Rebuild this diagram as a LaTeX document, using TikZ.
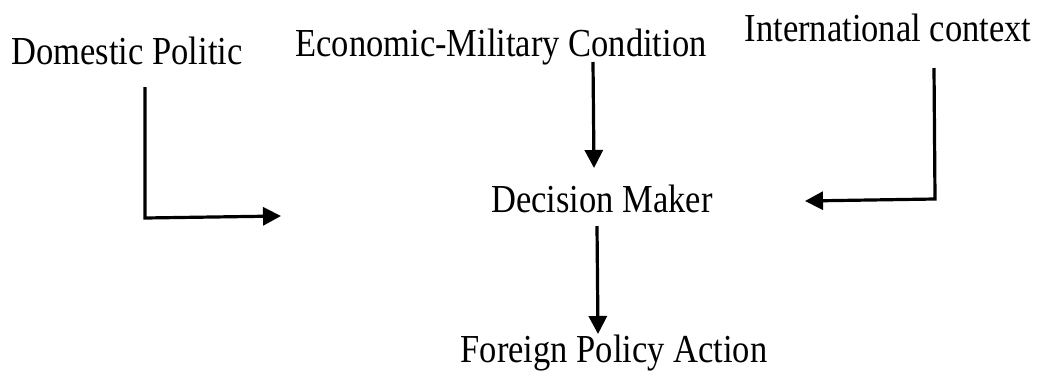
\documentclass[tikz,border=0pt]{standalone}
\usepackage{fontspec}
\setmainfont{Liberation Serif}
\usetikzlibrary{arrows.meta}
\begin{document}
\begin{tikzpicture}[x=1pt,y=-1pt,
  lbl/.style={font=\fontsize{34.5}{40}\selectfont, inner sep=0pt, anchor=base, yscale=1.15, transform shape},
  conn/.style={line width=3.2pt, -{Triangle[length=18pt,width=18pt]}}]
\useasboundingbox (0,0) rectangle (1043,381);
\node[lbl] (dom) at (127,64) {Domestic Politic};
\node[lbl] (eco) at (501,56) {Economic-Military Condition};
\node[lbl] (int) at (888,41) {International context};
\node[lbl] (dec) at (602,212) {Decision Maker};
\node[lbl] (for) at (614,362) {Foreign Policy Action};
\coordinate (lt) at (145,87);
\coordinate (lc) at (145,218);
\coordinate (le) at (281,216);
\coordinate (rt) at (934,68);
\coordinate (rc) at (935,199);
\coordinate (re) at (805,201);
\coordinate (mt) at (593,62);
\coordinate (me) at (594,168);
\coordinate (bt) at (597,226);
\coordinate (be) at (598,334);
\draw[conn] (lt) -- (lc) -- (le);
\draw[conn] (rt) -- (rc) -- (re);
\draw[conn] (mt) -- (me);
\draw[conn] (bt) -- (be);
\end{tikzpicture}
\end{document}
